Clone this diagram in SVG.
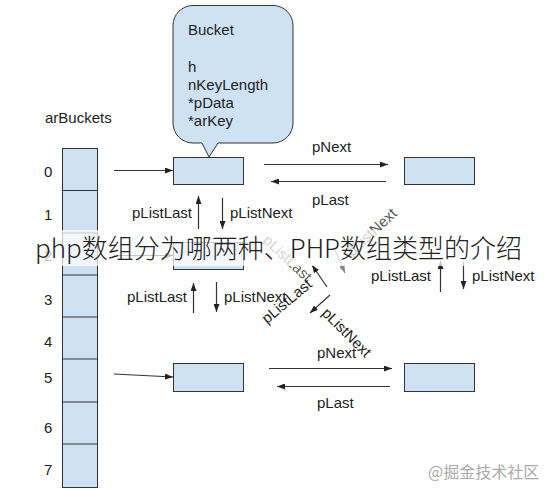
<svg xmlns="http://www.w3.org/2000/svg" width="549" height="490" viewBox="0 0 549 490">
<defs>
<style>
.t{font-family:"Liberation Sans",Arial,sans-serif;font-size:15px;fill:#222}
.box{fill:#cfe2f3;stroke:#333;stroke-width:1}
.ln{stroke:#333;stroke-width:1.2;fill:none}
.fl{stroke:#888;stroke-width:1.2;fill:none}
.cjk{font-family:"Noto Sans CJK SC","Noto Sans",sans-serif}
</style>
<marker id="ah" viewBox="0 0 8 6" refX="8" refY="3" markerWidth="8" markerHeight="6" orient="auto" markerUnits="userSpaceOnUse"><path d="M0,0 L8,3 L0,6 z" fill="#222"/></marker>
<marker id="ahg" viewBox="0 0 8 6" refX="8" refY="3" markerWidth="8" markerHeight="6" orient="auto" markerUnits="userSpaceOnUse"><path d="M0,0 L8,3 L0,6 z" fill="#888"/></marker>
</defs>
<rect width="549" height="490" fill="#fff"/>

<g id="arBuckets">
<text class="t" x="45" y="123">arBuckets</text>
<rect class="box" x="62.5" y="148.5" width="35" height="339"/>
<path class="ln" d="M62.5,190.5H97.5M62.5,233H97.5M62.5,275H97.5M62.5,317H97.5M62.5,359H97.5M62.5,402H97.5M62.5,444H97.5"/>
<text class="t" x="44" y="177">0</text>
<text class="t" x="44" y="220">1</text>
<text class="t" x="44" y="261">2</text>
<text class="t" x="44" y="305">3</text>
<text class="t" x="44" y="347">4</text>
<text class="t" x="44" y="383">5</text>
<text class="t" x="44" y="433">6</text>
<text class="t" x="44" y="475">7</text>
</g>

<g id="bucketCallout">
<path class="box" d="M193,5.5H273A20,20 0 0 1 293,25.5V123A20,20 0 0 1 273,143H218L209,157L202,143H193A20,20 0 0 1 173,123V25.5A20,20 0 0 1 193,5.5Z"/>
<text class="t" x="188" y="35">Bucket</text>
<text class="t" x="188" y="72">h</text>
<text class="t" x="188" y="90">nKeyLength</text>
<text class="t" x="188" y="108">*pData</text>
<text class="t" x="188" y="126">*arKey</text>
</g>

<g id="bucketTopLeft"><rect class="box" x="173.5" y="157.5" width="70" height="27"/></g>
<g id="bucketTopRight"><rect class="box" x="404.5" y="157.5" width="70" height="27"/></g>
<g id="bucketMidLeft"><rect class="box" x="173.5" y="242.5" width="70" height="27"/></g>
<g id="bucketBottomLeft"><rect class="box" x="173.5" y="363.5" width="70" height="28"/></g>
<g id="bucketBottomRight"><rect class="box" x="404.5" y="363.5" width="70" height="28"/></g>

<g id="connectors">
<line class="ln" x1="114" y1="170.5" x2="173" y2="170.5" marker-end="url(#ah)"/>
<line class="ln" x1="114" y1="255.5" x2="173" y2="255.5" marker-end="url(#ah)"/>
<line class="ln" x1="114" y1="374" x2="173" y2="377" marker-end="url(#ah)"/>

<line class="ln" x1="264" y1="164.5" x2="388" y2="164.5" marker-end="url(#ah)"/>
<line class="ln" x1="386" y1="181.5" x2="271" y2="181.5" marker-end="url(#ah)"/>
<text class="t" x="312" y="152">pNext</text>
<text class="t" x="312" y="205">pLast</text>

<line class="ln" x1="269" y1="368.5" x2="392" y2="368.5" marker-end="url(#ah)"/>
<line class="ln" x1="390" y1="386.5" x2="277" y2="386.5" marker-end="url(#ah)"/>
<text class="t" x="317" y="358">pNext</text>
<text class="t" x="317" y="408">pLast</text>

<line class="ln" x1="198.5" y1="229" x2="198.5" y2="196" marker-end="url(#ah)"/>
<line class="ln" x1="222.5" y1="198" x2="222.5" y2="229" marker-end="url(#ah)"/>
<text class="t" x="192" y="218" text-anchor="end">pListLast</text>
<text class="t" x="230" y="218">pListNext</text>

<line class="ln" x1="193.5" y1="313" x2="193.5" y2="283" marker-end="url(#ah)"/>
<line class="ln" x1="216.5" y1="282" x2="216.5" y2="312" marker-end="url(#ah)"/>
<text class="t" x="187" y="302" text-anchor="end">pListLast</text>
<text class="t" x="224" y="302">pListNext</text>

<line class="ln" x1="440.5" y1="292" x2="440.5" y2="261" marker-end="url(#ah)"/>
<line class="ln" x1="463.5" y1="262" x2="463.5" y2="289" marker-end="url(#ah)"/>
<text class="t" x="431" y="281" text-anchor="end">pListLast</text>
<text class="t" x="472" y="281">pListNext</text>

<line class="ln" x1="327" y1="287" x2="312" y2="265" marker-end="url(#ah)"/>
<line class="ln" x1="330" y1="295" x2="310" y2="313" marker-end="url(#ah)"/>
<line class="fl" x1="335" y1="250" x2="345" y2="273" marker-end="url(#ahg)"/>

<text class="t" style="fill:#666" text-anchor="middle" transform="translate(284,262) rotate(43)">pListLast</text>
<text class="t" text-anchor="middle" transform="translate(290,305) rotate(-40)">pListLast</text>
<text class="t" style="fill:#555" text-anchor="middle" transform="translate(375,236) rotate(-43)">pListNext</text>
<text class="t" text-anchor="middle" transform="translate(343,336) rotate(45)">pListNext</text>
</g>

<rect x="28" y="230" width="497" height="36" fill="#fff" fill-opacity="0.72"/>
<text class="cjk" x="35" y="258" font-size="26" font-weight="300" fill="#222">php数组分为哪两种、PHP数组类型的介绍</text>
<text class="cjk" x="428" y="478" font-size="16" fill="#aaa">@掘金技术社区</text>
</svg>
